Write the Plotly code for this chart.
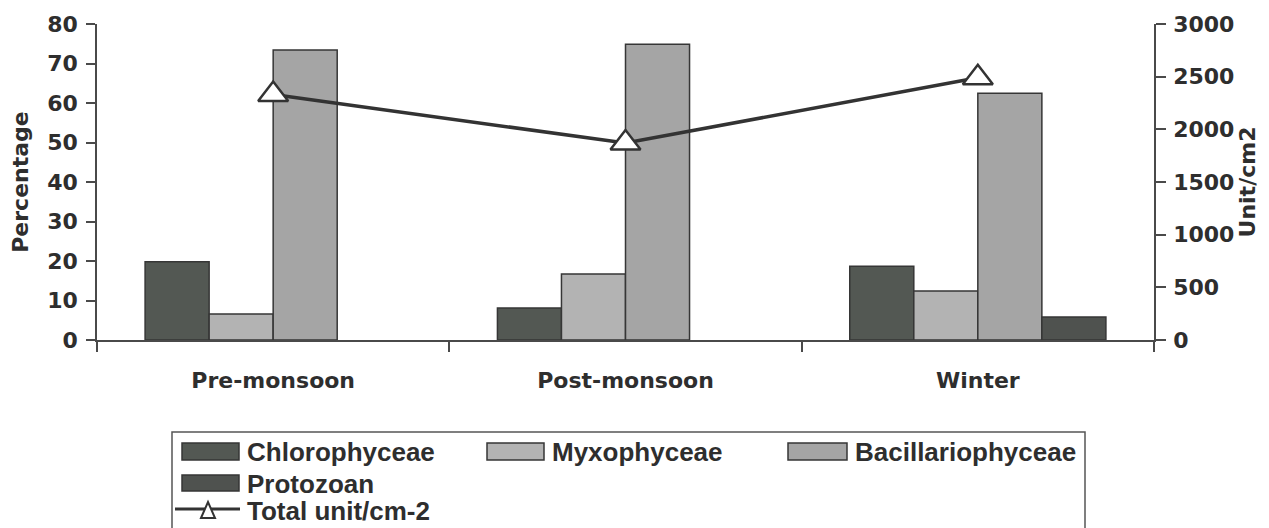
import plotly.graph_objects as go

seasons = ["Pre-monsoon", "Post-monsoon", "Winter"]
chlorophyceae = [19.8, 8.1, 18.7]
myxophyceae = [6.6, 16.7, 12.4]
bacillariophyceae = [73.4, 74.9, 62.5]
protozoan = [0, 0, 5.8]
total_units = [2330, 1870, 2490]

AX = dict(family="DejaVu Sans", size=22, color="#2e2e2e", weight="bold")
LG = dict(family="Liberation Sans", size=26, color="#2e2e2e", weight="bold")
LINEC = "#4a4a4a"
OUTC = "#363636"

COLORS = {"Chlorophyceae": "#535853", "Myxophyceae": "#b3b3b3",
          "Bacillariophyceae": "#a5a5a5", "Protozoan": "#4f524f"}

# page offset (browser body margin) -> figure is drawn starting at (8, 8)
OFF = 8
L, T, PW, PH = 97, 24, 1057, 316  # plot area in page pixels


def px(X):
    return (X - L) / PW


def py(Y):
    return (T + PH - Y) / PH


def outline(vals):
    return [0 if v == 0 else 1.5 for v in vals]


fig = go.Figure()
for name, vals in [("Chlorophyceae", chlorophyceae), ("Myxophyceae", myxophyceae),
                   ("Bacillariophyceae", bacillariophyceae), ("Protozoan", protozoan)]:
    fig.add_trace(go.Bar(x=seasons, y=vals, name=name, showlegend=False,
                         marker=dict(color=COLORS[name],
                                     line=dict(color=OUTC, width=outline(vals)))))
fig.add_trace(go.Scatter(x=seasons, y=total_units, name="Total unit/cm-2", yaxis="y2",
                         mode="lines+markers", showlegend=False,
                         line=dict(color="#333333", width=3.5),
                         marker=dict(symbol="triangle-up", size=26, color="white",
                                     line=dict(color="#333333", width=2.5))))

# manual legend (swatches + real text)
shapes = [dict(type="rect", xref="paper", yref="paper",
               x0=px(172), x1=px(1085), y0=py(600), y1=py(432),
               line=dict(color="#555555", width=1.5), fillcolor="rgba(0,0,0,0)")]
annotations = []
legend_items = [("Chlorophyceae", 182, 239, 443, 460, 245),
                ("Myxophyceae", 487, 544, 443, 460, 550),
                ("Bacillariophyceae", 788, 847, 443, 460, 853),
                ("Protozoan", 182, 239, 475, 491, 245)]
for name, x0, x1, y0, y1, tx in legend_items:
    shapes.append(dict(type="rect", xref="paper", yref="paper",
                       x0=px(x0), x1=px(x1), y0=py(y1), y1=py(y0),
                       fillcolor=COLORS[name], line=dict(color=OUTC, width=1.5)))
    annotations.append(dict(text=name, xref="paper", yref="paper", x=px(tx),
                            y=py((y0 + y1) / 2 + 1), xanchor="left", yanchor="middle",
                            showarrow=False, font=LG))
# Total line entry
shapes.append(dict(type="line", xref="paper", yref="paper", x0=px(175), x1=px(240),
                   y0=py(509), y1=py(509), line=dict(color="#333333", width=3)))
shapes.append(dict(type="path", xref="paper", yref="paper",
                   path="M {a},{b} L {c},{d} L {e},{f} Z".format(
                       a=px(201), b=py(518), c=px(208), d=py(502), e=px(215), f=py(518)),
                   fillcolor="white", line=dict(color="#333333", width=2)))
annotations.append(dict(text="Total unit/cm-2", xref="paper", yref="paper", x=px(245),
                        y=py(511), xanchor="left", yanchor="middle",
                        showarrow=False, font=LG))

fig.update_layout(
    width=1269 - OFF, height=528 - OFF,
    margin=dict(l=L - OFF, r=(1269 - OFF) - (L - OFF) - PW, t=T - OFF,
                b=(528 - OFF) - (T - OFF) - PH, autoexpand=False),
    paper_bgcolor="white", plot_bgcolor="rgba(0,0,0,0)",
    barmode="group", bargap=0.273, bargroupgap=0,
    font=AX, showlegend=False,
    xaxis=dict(showline=True, linecolor=LINEC, linewidth=1.5, ticks="outside",
               tickson="boundaries", ticklen=10, tickcolor=LINEC, tickwidth=1.5,
               tickfont=AX, ticklabelstandoff=20, showgrid=False, zeroline=False,
               automargin=False),
    yaxis=dict(range=[0, 80], dtick=10, showgrid=False, zeroline=False, showline=True,
               linecolor=LINEC, linewidth=1.5, ticks="outside", ticklen=9,
               tickcolor=LINEC, tickwidth=1.5, tickfont=AX, ticklabelstandoff=4,
               automargin=False,
               title=dict(text="Percentage", font=AX, standoff=14)),
    yaxis2=dict(range=[0, 3000], dtick=500, overlaying="y", side="right",
                showgrid=False, zeroline=False, showline=True, linecolor=LINEC,
                linewidth=1.5, ticks="outside", ticklen=10, tickcolor=LINEC,
                tickwidth=1.5, tickfont=AX, ticklabelstandoff=3, automargin=False,
                title=dict(text="Unit/cm2", font=AX, standoff=6)),
    shapes=shapes,
    annotations=annotations,
)

fig.write_html("out.html")
